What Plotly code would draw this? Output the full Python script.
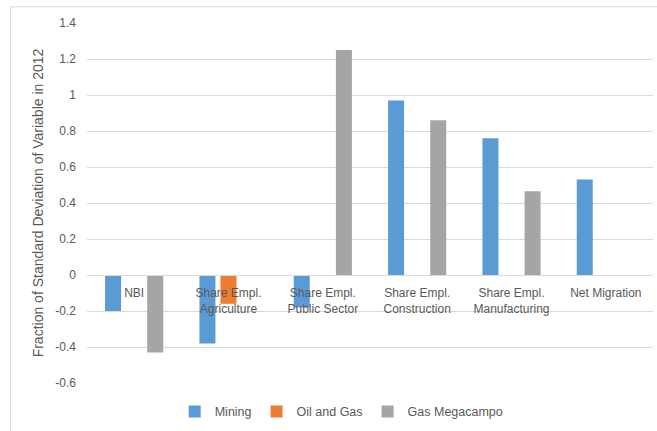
import plotly.graph_objects as go

categories = ['NBI', 'Share Empl.<br>Agriculture', 'Share Empl.<br>Public Sector',
              'Share Empl.<br>Construction', 'Share Empl.<br>Manufacturing', 'Net Migration']
mining = [-0.20, -0.38, -0.18, 0.97, 0.76, 0.53]
oil_gas = [0, -0.16, 0, 0, 0, 0]
megacampo = [-0.43, 0, 1.25, 0.86, 0.465, 0]
tick_vals = [-0.6, -0.4, -0.2, 0, 0.2, 0.4, 0.6, 0.8, 1, 1.2, 1.4]
tick_text = ['-0.6', '-0.4', '-0.2', '0', '0.2', '0.4', '0.6', '0.8', '1', '1.2', '1.4']

BLUE = '#5B9BD5'; ORANGE = '#ED7D31'; GRAY = '#A5A5A5'; TXT = '#595959'; GRID = '#D9D9D9'

fig = go.Figure()
for name, vals, color in [('Mining', mining, BLUE), ('Oil and Gas', oil_gas, ORANGE),
                          ('Gas Megacampo', megacampo, GRAY)]:
    fig.add_trace(go.Bar(x=categories, y=vals, name=name, marker_color=color,
                         marker_line_width=0))

fig.update_layout(
    width=657, height=431,
    plot_bgcolor='white', paper_bgcolor='white',
    font=dict(family='Liberation Sans', size=12, color=TXT),
    margin=dict(l=87, r=4, t=23, b=48, autoexpand=False),
    barmode='group', bargap=0.33, bargroupgap=0.24,
    legend=dict(orientation='h', x=0.45, xanchor='center', y=-0.08, yanchor='middle',
                font=dict(size=12.5, color=TXT), itemwidth=30, traceorder='normal'),
    xaxis=dict(anchor='free', position=0.3, showgrid=False, zeroline=False,
               showline=True, linecolor=GRID, linewidth=1, ticks='', automargin=False,
               ticklabelstandoff=7, tickfont=dict(size=12, color=TXT)),
    yaxis=dict(range=[-0.6, 1.4], tickvals=tick_vals, ticktext=tick_text,
               showgrid=True, gridcolor=GRID, gridwidth=1, zeroline=False,
               showline=False, ticks='', ticklabelstandoff=10, automargin=False,
               tickfont=dict(size=12, color=TXT),
               title=dict(text='Fraction of Standard Deviation of Variable in 2012',
                          font=dict(size=14, color=TXT), standoff=8)),
    shapes=[dict(type='rect', xref='paper', yref='paper',
                 x0=-0.135, x1=1.02, y0=-0.2, y1=1.045,
                 line=dict(color=GRID, width=1), fillcolor='rgba(0,0,0,0)', layer='below')],
)

fig.write_html('out.html', config={'displayModeBar': False},
               post_script="document.body.style.margin='0';")
